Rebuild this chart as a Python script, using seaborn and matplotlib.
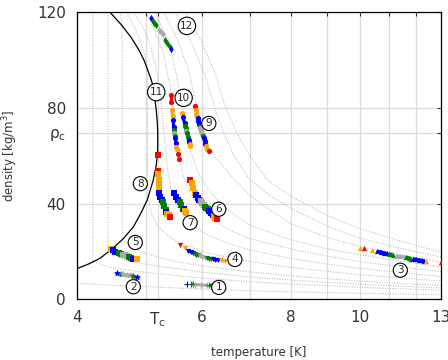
import numpy as np
import matplotlib
matplotlib.use("Agg")
import matplotlib.pyplot as plt
import seaborn as sns

# critical point (helium)
T_C = 5.195
RHO_C = 69.6

# saturation dome
dome_T = [4.45, 4.61, 4.76, 4.89, 4.97, 5.03, 5.09, 5.13, 5.15, 5.17, 5.185, 5.195,
          5.195, 5.17, 5.12, 5.02, 4.91, 4.80, 4.64, 4.49, 4.31, 4.145, 4.0]
dome_rho = [120, 115, 109.7, 104.1, 99.9, 95.7, 91.6, 87.4, 83.2, 79.0, 74.8, 69.6,
            62.3, 56.0, 49.7, 41.4, 35.5, 30.2, 25.1, 21.3, 17.1, 14.6, 12.8]

# dotted background isobars (T, rho), read/
iso_lines = [
    ([4.0, 4.5, 5.0, 6.0, 7.0, 8.0, 10.0, 13.0],
     [6.7, 5.8, 5.2, 4.2, 3.55, 3.08, 2.44, 1.86]),
    ([4.21, 4.21, 4.5, 5.0, 6.0, 7.0, 8.0, 10.0, 13.0],
     [120, 15.6, 12.95, 11.2, 8.8, 7.33, 6.31, 4.95, 3.74]),
    ([4.42, 4.42, 4.7, 5.0, 6.0, 7.0, 8.0, 10.0, 13.0],
     [120, 19.7, 16.0, 14.6, 11.3, 9.3, 7.98, 6.24, 4.69]),
    ([4.6, 4.63, 4.63, 4.8, 5.0, 5.5, 6.0, 7.0, 8.0, 10.0, 13.0],
     [120, 114.4, 25.2, 21.5, 19.0, 15.7, 13.9, 11.4, 9.7, 7.53, 5.65]),
    ([4.7, 4.85, 4.95, 5.0, 5.03, 5.03, 5.1, 5.2, 5.35, 5.5, 6.0, 7.0, 8.0, 10.0, 13.0],
     [120, 112, 105, 100, 95.7, 42, 35, 30.5, 27, 24.5, 19.8, 15.7, 13.3, 10.2, 7.58]),
    ([4.8, 4.95, 5.05, 5.15, 5.22, 5.27, 5.31, 5.35, 5.42, 5.52, 5.7, 6.0, 6.5, 7.0, 8.0, 9.0, 10.0, 11.5, 13.0],
     [120, 114, 108, 99, 88, 78, 67, 57, 46, 39, 33, 28, 23.5, 20.5, 17, 14.7, 12.9, 11, 9.5]),
    ([5.0, 5.15, 5.3, 5.43, 5.5, 5.57, 5.65, 5.8, 6.0, 6.3, 6.6, 7.0, 8.0, 9.0, 10.0, 11.5, 13.0],
     [120, 112, 102, 86, 72, 60, 51, 43, 37.5, 32, 28.5, 25.3, 21, 18, 15.7, 13.4, 11.5]),
    ([5.15, 5.38, 5.52, 5.62, 5.7, 5.78, 5.9, 6.05, 6.3, 6.6, 7.0, 8.0, 9.0, 10.0, 11.5, 13.0],
     [120, 108, 94, 80, 70, 62, 54, 48, 41.5, 36, 31, 24.8, 21, 18.6, 15.8, 13.5]),
    ([5.3, 5.55, 5.75, 5.86, 6.0, 6.13, 6.3, 6.45, 6.66, 7.0, 7.5, 8.0, 9.0, 10.0, 11.5, 13.0],
     [120, 108, 95, 84, 73, 64, 58.5, 55, 50, 43.5, 37, 31.5, 25.8, 22, 18.3, 15.5]),
    ([5.5, 5.8, 6.05, 6.25, 6.44, 6.65, 7.0, 7.5, 8.0, 9.0, 10.0, 11.5, 13.0],
     [120, 107, 94, 80, 69, 60, 50, 43, 38, 30.5, 25.5, 21, 17.6]),
    ([5.68, 6.0, 6.25, 6.44, 6.7, 7.0, 7.4, 8.0, 9.0, 10.0, 11.5, 13.0],
     [120, 107, 95, 82, 70, 60, 50, 43, 35, 29.5, 24, 19.6]),
]

# measured series: (marker, [(color, T list, rho list), ...])
C_R, C_O, C_B, C_G, C_Y = "#ff0000", "#ffa500", "#0000ff", "#008000", "#a9a9a9"

grp1 = ("+", [
    (C_B, [5.72], [6.3]),
    (C_G, [5.79, 5.82], [6.2, 6.15]),
    (C_Y, [5.86, 5.98, 6.10], [6.1, 5.95, 5.8]),
    (C_G, [6.14, 6.18, 6.22], [5.75, 5.7, 5.65]),
    (C_B, [6.27], [5.6]),
])
grp2 = ("*", [
    (C_B, [4.55], [10.9]),
    (C_G, [4.61], [10.5]),
    (C_Y, [4.64, 4.70, 4.76], [10.4, 10.2, 10.0]),
    (C_G, [4.80], [9.7]),
    (C_B, [4.86], [9.3]),
])
grp3 = ("^", [
    (C_O, [10.0], [21.2]),
    (C_R, [10.12], [21.6]),
    (C_O, [10.41], [20.5]),
    (C_B, [10.56, 10.7, 10.82, 10.93], [20.1, 19.8, 19.4, 19.1]),
    (C_G, [10.98, 11.06, 11.14], [19.0, 18.7, 18.4]),
    (C_Y, [11.26, 11.4, 11.57], [18.0, 17.85, 17.7]),
    (C_G, [11.62, 11.72, 11.81], [17.6, 17.3, 17.0]),
    (C_B, [11.88, 12.0, 12.12, 12.24, 12.32], [16.9, 16.7, 16.4, 16.2, 16.0]),
    (C_O, [12.39], [15.9]),
    (C_R, [13.0], [15.5]),
])
grp4 = ("v", [
    (C_R, [5.58], [22.6]),
    (C_O, [5.67], [21.2]),
    (C_B, [5.73, 5.78, 5.83], [20.2, 19.8, 19.4]),
    (C_G, [5.86, 5.89, 5.92], [18.8, 18.6, 18.3]),
    (C_Y, [5.96, 6.0, 6.05], [18.0, 17.7, 17.4]),
    (C_G, [6.09, 6.13, 6.17], [17.3, 17.0, 16.8]),
    (C_B, [6.21, 6.26, 6.31], [16.7, 16.5, 16.3]),
    (C_O, [6.38, 6.45], [16.2, 15.9]),
    (C_R, [6.70], [15.8]),
])
grp5 = ("s", [
    (C_O, [4.46], [21.0]),
    (C_B, [4.50, 4.53], [20.4, 19.9]),
    (C_G, [4.58, 4.61], [19.2, 18.9]),
    (C_Y, [4.64, 4.67, 4.70], [18.6, 18.3, 18.0]),
    (C_G, [4.73, 4.76], [17.6, 17.3]),
    (C_B, [4.80, 4.83], [17.0, 16.8]),
    (C_O, [4.86], [16.6]),
])
grp6 = ("s", [
    (C_R, [5.77], [49.7]),
    (C_O, [5.80, 5.83, 5.86], [48.4, 46.3, 44.2]),
    (C_B, [5.88, 5.91, 5.94], [43.5, 42.4, 41.4]),
    (C_Y, [5.97, 6.0, 6.03], [41.0, 40.2, 39.3]),
    (C_G, [6.06, 6.08, 6.11], [38.6, 38.0, 37.5]),
    (C_B, [6.14, 6.18, 6.21], [36.9, 36.0, 35.1]),
    (C_O, [6.23, 6.26], [34.7, 34.0]),
    (C_R, [6.29], [33.7]),
])
grp7 = ("s", [
    (C_B, [5.47, 5.52, 5.55], [44.2, 42.8, 41.4]),
    (C_G, [5.58, 5.61, 5.63], [40.7, 39.2, 37.9]),
    (C_B, [5.65], [37.5]),
    (C_O, [5.68, 5.70], [36.9, 36.2]),
])
grp8 = ("s", [
    (C_R, [5.20], [60.2]),
    (C_R, [5.20], [53.6]),
    (C_O, [5.20, 5.21, 5.21, 5.22], [52.3, 49.8, 47.3, 44.9]),
    (C_B, [5.22, 5.24, 5.26], [44.4, 42.9, 41.4]),
    (C_G, [5.28, 5.30, 5.33], [40.7, 39.0, 37.2]),
    (C_B, [5.34], [36.5]),
    (C_O, [5.36, 5.39], [35.8, 35.0]),
    (C_R, [5.41], [34.4]),
])
grp9 = ("o", [
    (C_R, [5.86], [80.8]),
    (C_O, [5.88, 5.89, 5.90], [79.0, 77.6, 76.2]),
    (C_B, [5.91, 5.92, 5.94], [75.9, 74.5, 73.2]),
    (C_G, [5.95], [72.3]),
    (C_Y, [5.96, 5.98, 6.00], [71.4, 70.2, 69.0]),
    (C_G, [6.01], [68.3]),
    (C_B, [6.03, 6.05, 6.06], [67.6, 66.2, 64.8]),
    (C_O, [6.08, 6.10], [64.0, 63.0]),
    (C_R, [6.13], [62.0]),
])
grp10 = ("o", [
    (C_O, [5.62], [77.9]),
    (C_B, [5.63, 5.67], [76.2, 73.7]),
    (C_G, [5.68, 5.69], [72.3, 71.4]),
    (C_Y, [5.70], [70.4]),
    (C_G, [5.71, 5.73], [69.3, 67.9]),
    (C_B, [5.74, 5.75], [66.5, 65.8]),
    (C_O, [5.76, 5.77], [65.1, 64.0]),
])
grp11 = ("o", [
    (C_R, [5.43, 5.43], [85.3, 82.5]),
    (C_O, [5.44, 5.45], [79.1, 76.4]),
    (C_B, [5.46, 5.47], [74.8, 72.0]),
    (C_G, [5.475], [70.9]),
    (C_Y, [5.48], [69.5]),
    (C_G, [5.49], [68.1]),
    (C_B, [5.50, 5.51], [67.3, 65.3]),
    (C_O, [5.52, 5.525], [63.7, 62.8]),
    (C_R, [5.54], [60.6]),
    (C_R, [5.57], [58.5]),
])
grp12 = ("d", [
    (C_B, [5.09], [117.4]),
    (C_G, [5.11, 5.14, 5.17], [116.5, 115.5, 114.5]),
    (C_Y, [5.22, 5.25, 5.29], [112.7, 111.8, 110.8]),
    (C_G, [5.32, 5.36, 5.40], [108.3, 107.0, 105.5]),
    (C_B, [5.43], [104.5]),
])
groups = [grp1, grp2, grp3, grp4, grp5, grp6, grp7, grp8, grp9, grp10, grp11, grp12]

# label positions for the numbered circles
label_T = [6.33, 4.80, 11.4, 6.67, 4.83, 6.33, 5.77, 4.91, 6.13, 5.65, 5.17, 5.71]
label_rho = [4.9, 5.2, 12.1, 16.6, 23.7, 37.6, 32.0, 48.3, 73.5, 84.2, 86.6, 114.3]

sns.set_theme(style="white")
plt.rcParams["font.family"] = ["DejaVu Sans"]

fig = plt.figure(figsize=(4.48, 3.6), dpi=100)
ax = fig.add_axes([0.172, 0.169, 0.812, 0.797])
ax.set_xscale("log")
ax.set_xlim(4, 13)
ax.set_ylim(0, 120)

# grid
for t in [5, T_C, 6, 7, 8, 9, 10, 11, 12]:
    ax.axvline(t, color="#dcdcdc", lw=0.9, zorder=0)
for r in [40, RHO_C, 80]:
    ax.axhline(r, color="#dcdcdc", lw=0.9, zorder=0)

for Ts, rs in iso_lines:
    ax.plot(Ts, rs, ls=(0, (1, 1.6)), color="#b0b0b0", lw=0.7, zorder=1)

ax.plot(dome_T, dome_rho, color="black", lw=0.9, zorder=2)

for marker, segs in groups:
    for col, Ts, rs in segs:
        ax.plot(Ts, rs, color=col, lw=2.2, solid_capstyle="butt", zorder=3)
        sns.scatterplot(x=Ts, y=rs, ax=ax, color=col, marker=marker, s=14,
                        linewidth=0.8 if marker in "+*" else 0, edgecolor=col, zorder=4, legend=False)

for i, (t, r) in enumerate(zip(label_T, label_rho)):
    ax.text(t, r, str(i + 1), fontsize=7.5, ha="center", va="center", zorder=5,
            bbox=dict(boxstyle="circle,pad=0.2", fc="white", ec="black", lw=0.8))

ax.set_xticks([4, T_C, 6, 8, 10, 13])
ax.set_xticklabels(["4", r"T$_\mathrm{c}$", "6", "8", "10", "13"])
ax.xaxis.set_minor_locator(matplotlib.ticker.FixedLocator([5, 7, 9, 11, 12]))
ax.xaxis.set_minor_formatter(matplotlib.ticker.NullFormatter())
ax.set_yticks([0, 40, RHO_C, 80, 120])
ax.set_yticklabels(["0", "40", r"ρ$_\mathrm{c}$", "80", "120"])
ax.tick_params(axis="both", which="both", direction="in", length=3, width=0.8,
               top=True, right=True, labelsize=11, colors="#333333", pad=8)
for s in ax.spines.values():
    s.set_color("black")
    s.set_linewidth(0.9)

ax.set_xlabel("temperature [K]", fontsize=8.5, labelpad=12, color="#333333")
ax.set_ylabel(r"density [kg/m$^3$]", fontsize=8.5, labelpad=12, color="#333333")

fig.savefig("out.png", dpi=100)
